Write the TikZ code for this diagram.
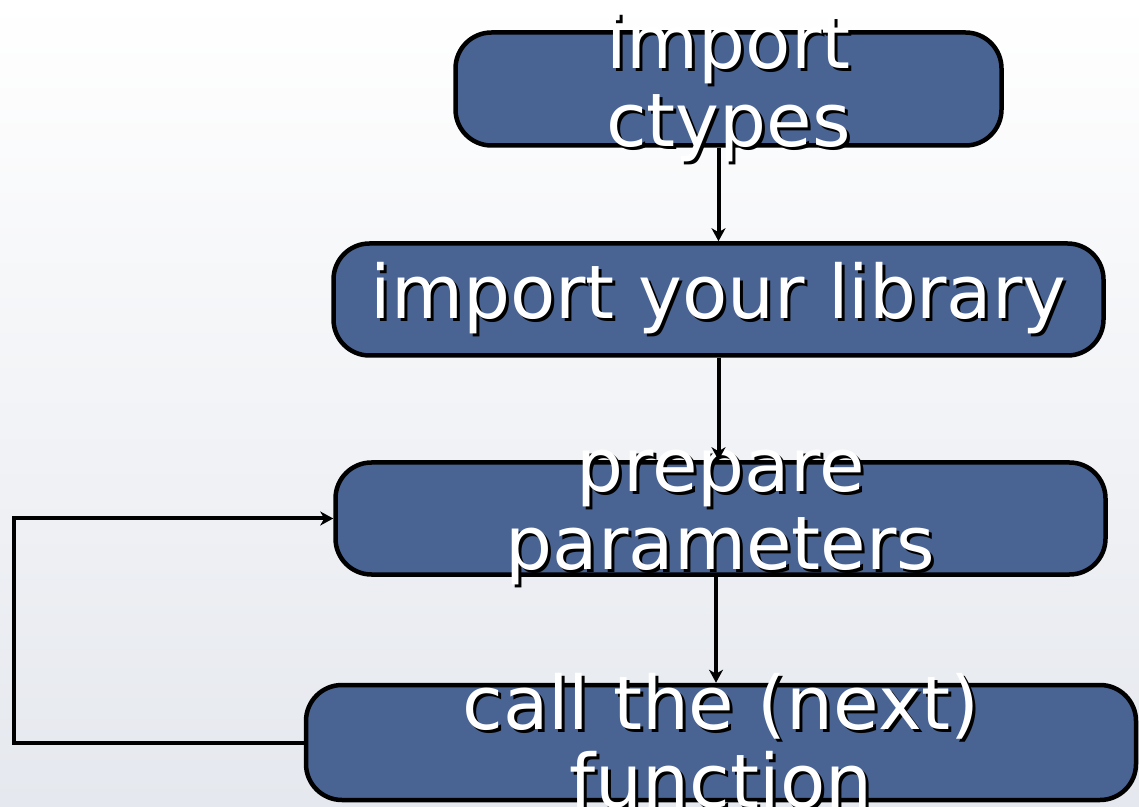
\documentclass[tikz,border=0pt]{standalone}
\usepackage{fontspec}
\setmainfont{DejaVu Sans}
\usetikzlibrary{arrows.meta}
\definecolor{boxblue}{RGB}{73,99,147}
\definecolor{bgbottom}{RGB}{229,232,238}
\newcommand{\shtext}[1]{\makebox[0pt][l]{\hspace*{3pt}\raisebox{-3pt}{\color{black}#1}}#1}

\begin{document}
\begin{tikzpicture}[x=1pt, y=1pt,
    stepbox/.style={draw=black, line width=4.5pt, fill=boxblue, rounded corners=36pt, inner sep=0pt},
    boxtext/.style={text=white, align=center, font=\fontsize{74}{78}\selectfont},
    flow/.style={line width=4pt, -{Stealth[length=13pt, width=14pt, inset=4pt]}},]

\useasboundingbox (0,0) rectangle (1139,806);
\shade[top color=white, bottom color=bgbottom] (0,0) rectangle (1139,806);

\node[stepbox, minimum width=546, minimum height=113] (ctypes) at (728.5,717)
    [label={[boxtext]center:{\shtext{import}\\\shtext{ctypes}}}] {};
\node[stepbox, minimum width=770, minimum height=112] (library) at (718.5,506.5)
    [label={[boxtext]center:{\shtext{import your library}}}] {};
\node[stepbox, minimum width=770, minimum height=112] (params) at (720.5,287.5)
    [label={[boxtext]center:{\shtext{prepare}\\\shtext{parameters}}}] {};
\node[stepbox, minimum width=830, minimum height=115] (call) at (721,63.5)
    [label={[boxtext]center:{\shtext{call the (next)}\\\shtext{function}}}] {};

\draw[flow] (ctypes.south -| library.north) -- (library.north);
\draw[flow] (library.south) -- (params.north -| library.south);
\draw[flow] (params.south -| 716,0) -- (call.north -| 716,0);
\draw[flow] (call.west) -- ++(-290,0) |- (params.west);
\end{tikzpicture}
\end{document}
